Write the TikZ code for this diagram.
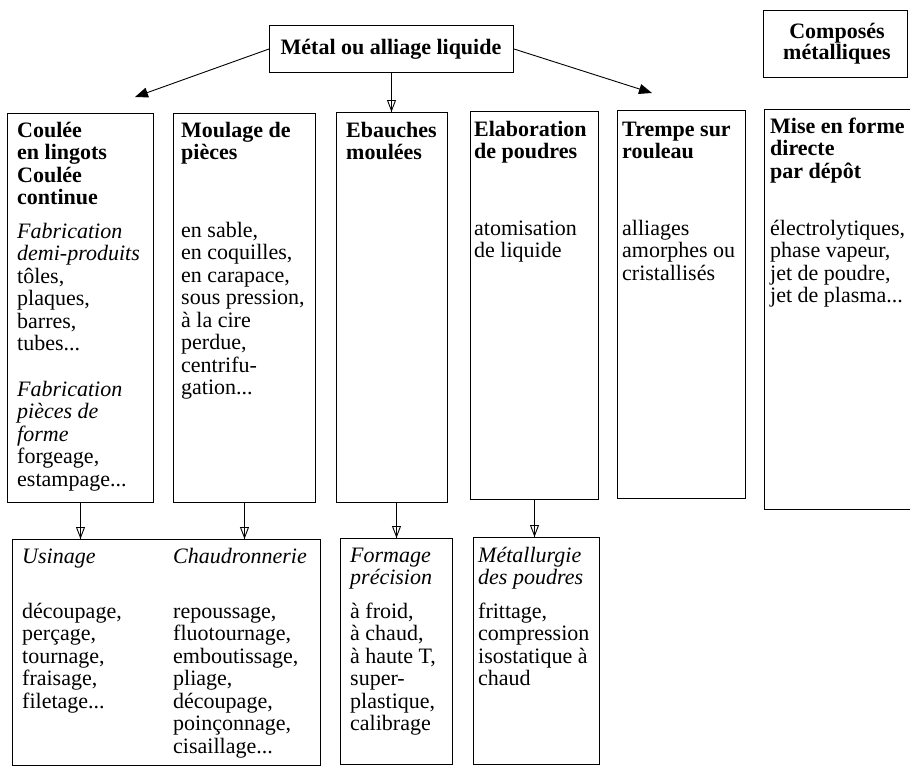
\documentclass[tikz,border=0pt]{standalone}
\usepackage{fontspec}
\setmainfont{Liberation Serif}
\usetikzlibrary{arrows.meta}
\newcommand\blk[1]{\vtop{\baselineskip=22.5pt\lineskiplimit=-50pt\lineskip=0pt\relax #1}}
\newcommand\rowl[1]{\hbox{#1}}
\tikzset{
  box/.style={draw, line width=1pt, rectangle, inner sep=0pt, anchor=north west},
  txt/.style={anchor=base west, inner sep=0pt, font=\fontsize{22}{22.5}\selectfont},
  dnarrow/.style={line width=0.9pt, -{Triangle[open, length=12pt, width=9pt]}},
  shaft/.style={line width=0.9pt},
  diag/.style={line width=0.9pt, -{Triangle[length=13pt, width=10pt]}}
}
\begin{document}
\begin{tikzpicture}[x=1pt, y=-1pt]
\useasboundingbox (0,0) rectangle (910,766);
\clip (0,0) rectangle (910,766);
% boxes
\node[box, minimum width=244pt, minimum height=47pt] (met) at (269,25) {};
\node[box, minimum width=144pt, minimum height=67pt] (comp) at (763,10) {};
\node[box, minimum width=146pt, minimum height=389pt] (coul) at (7,113) {};
\node[box, minimum width=142pt, minimum height=389pt] (moul) at (173,113) {};
\node[box, minimum width=111pt, minimum height=390pt] (ebau) at (336,112) {};
\node[box, minimum width=128pt, minimum height=388pt] (elab) at (470,111) {};
\node[box, minimum width=128pt, minimum height=388pt] (trem) at (617,110) {};
\node[box, minimum width=170pt, minimum height=400pt] (mise) at (764,109) {};
\node[box, minimum width=308pt, minimum height=226pt] (usin) at (12,539) {};
\node[box, minimum width=112pt, minimum height=226pt] (form) at (340,538) {};
\node[box, minimum width=126pt, minimum height=227pt] (metl) at (473,537) {};
% titles
\node[font=\fontsize{22}{22.5}\selectfont\bfseries, inner sep=0pt, anchor=base] (mett) at (391,54) {Métal ou alliage liquide};
\node[font=\fontsize{22}{21}\selectfont\bfseries, inner sep=0pt, align=center, anchor=center] (compt) at (837,44) {Composés\\métalliques};
% column texts
\node[txt] (coult) at (17,137) {\blk{\rowl{\bfseries Coulée}\rowl{\bfseries en lingots}\rowl{\bfseries Coulée}\rowl{\bfseries continue}\vskip11pt
\rowl{\itshape Fabrication}\rowl{\itshape demi-produits}\rowl{tôles,}\rowl{plaques,}\rowl{barres,}\rowl{tubes...}\vskip23pt
\rowl{\itshape Fabrication}\rowl{\itshape pièces de}\rowl{\itshape forme}\rowl{forgeage,}\rowl{estampage...}}};
\node[txt] (moult) at (181,137) {\blk{\rowl{\bfseries Moulage de}\rowl{\bfseries pièces}\vskip55pt
\rowl{en sable,}\rowl{en coquilles,}\rowl{en carapace,}\rowl{sous pression,}\rowl{à la cire}\rowl{perdue,}\rowl{centrifu-}\rowl{gation...}}};
\node[txt] (ebaut) at (346,137) {\blk{\rowl{\bfseries Ebauches}\rowl{\bfseries moulées}}};
\node[txt] (elabt) at (474,136) {\blk{\rowl{\bfseries Elaboration}\rowl{\bfseries de poudres}\vskip54pt
\rowl{atomisation}\rowl{de liquide}}};
\node[txt] (tremt) at (622,136) {\blk{\rowl{\bfseries Trempe sur}\rowl{\bfseries rouleau}\vskip54pt
\rowl{alliages}\rowl{amorphes ou}\rowl{cristallisés}}};
\node[txt] (miset) at (770,133) {\blk{\rowl{\bfseries Mise en forme}\rowl{\bfseries directe}\rowl{\bfseries par dépôt}\vskip34.5pt
\rowl{électrolytiques,}\rowl{phase vapeur,}\rowl{jet de poudre,}\rowl{jet de plasma...}}};
% lower texts
\node[txt] (usint) at (22,563) {\blk{\rowl{\itshape Usinage}\vskip32.5pt
\rowl{découpage,}\rowl{perçage,}\rowl{tournage,}\rowl{fraisage,}\rowl{filetage...}}};
\node[txt] (chaut) at (173,563) {\blk{\rowl{\itshape Chaudronnerie}\vskip32.5pt
\rowl{repoussage,}\rowl{fluotournage,}\rowl{emboutissage,}\rowl{pliage,}\rowl{découpage,}\rowl{poinçonnage,}\rowl{cisaillage...}}};
\node[txt] (formt) at (350,562) {\blk{\rowl{\itshape Formage}\rowl{\itshape précision}\vskip11pt
\rowl{à froid,}\rowl{à chaud,}\rowl{à haute T,}\rowl{super-}\rowl{plastique,}\rowl{calibrage}}};
\node[txt] (metlt) at (478,562) {\blk{\rowl{\itshape Métallurgie}\rowl{\itshape des poudres}\vskip11pt
\rowl{frittage,}\rowl{compression}\rowl{isostatique à}\rowl{chaud}}};
% arrows
\coordinate (ltip) at (135,97);
\coordinate (rtip) at (652,93);
\draw[diag] (met.west) -- (ltip);
\draw[diag] (met.east) -- (rtip);
\draw[shaft] (met.south) -- (met.south |- ebau.north);
\draw[dnarrow] (met.south) -- (met.south |- ebau.north);
\draw[shaft] (coul.south) -- (coul.south |- usin.north);
\draw[dnarrow] (coul.south) -- (coul.south |- usin.north);
\draw[shaft] (moul.south) -- (moul.south |- usin.north);
\draw[dnarrow] (moul.south) -- (moul.south |- usin.north);
\draw[shaft] (form.north |- ebau.south) -- (form.north);
\draw[dnarrow] (form.north |- ebau.south) -- (form.north);
\draw[shaft] (elab.south) -- (elab.south |- metl.north);
\draw[dnarrow] (elab.south) -- (elab.south |- metl.north);
\end{tikzpicture}
\end{document}
